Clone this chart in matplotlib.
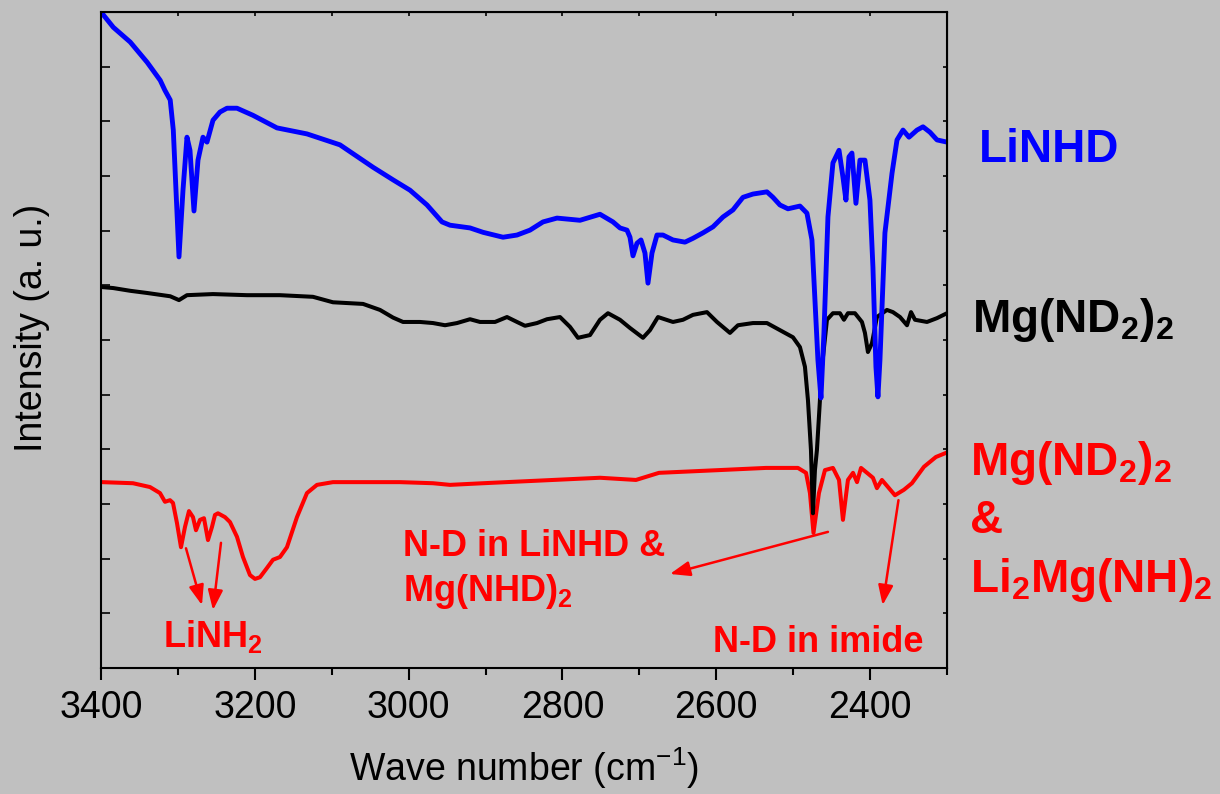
import numpy as np
import matplotlib as mpl
mpl.use('agg')
import matplotlib.pyplot as plt
from matplotlib.ticker import MultipleLocator, NullFormatter

plt.rcParams['font.family'] = ['Liberation Sans', 'DejaVu Sans']
plt.rcParams['mathtext.fontset'] = 'custom'
plt.rcParams['mathtext.rm'] = 'Liberation Sans'
plt.rcParams['mathtext.bf'] = 'Liberation Sans:bold'
plt.rcParams['mathtext.it'] = 'Liberation Sans:italic'

# FTIR spectra (wave number in cm-1, intensity offset per trace, arbitrary units)
wn_linhd = [3400, 3384, 3362, 3340, 3323, 3317, 3310, 3306, 3302.5, 3298.6, 3293.4, 3288.2,
            3284.3, 3279.1, 3273.9, 3267.4, 3262.2, 3254.4, 3245.3, 3236.2, 3223.2, 3202.4,
            3171.2, 3132.2, 3089.3, 3046.3, 3020.3, 2998.2, 2976.1, 2956.6, 2946.2, 2920.2,
            2903.3, 2877.3, 2859.1, 2842.2, 2825.3, 2807.1, 2777.2, 2751.2, 2734.3, 2725.2,
            2716.1, 2712.2, 2708.3, 2703.1, 2697.9, 2692.7, 2688.8, 2683.6, 2677.1, 2669.3,
            2656.3, 2640.7, 2630.3, 2617.3, 2604.3, 2591.3, 2578.3, 2565.3, 2552.3, 2534.1,
            2526.3, 2517.2, 2506.8, 2491.2, 2482.1, 2475.6, 2471.7, 2467.8, 2463.9, 2460.0,
            2454.8, 2448.3, 2440.4, 2435.3, 2431.4, 2427.5, 2423.6, 2418.4, 2413.2, 2406.7,
            2400.2, 2396.3, 2392.4, 2389.8, 2387.2, 2380.7, 2371.5, 2365.0, 2357.2, 2349.4,
            2339.0, 2331.2, 2322.1, 2313.0, 2300.0]
i_linhd = [12.0, 11.72, 11.45, 11.08, 10.75, 10.57, 10.39, 9.84, 8.74, 7.52, 8.74, 9.71,
           9.47, 8.36, 9.29, 9.71, 9.62, 10.02, 10.17, 10.24, 10.24, 10.11,
           9.88, 9.77, 9.57, 9.16, 8.93, 8.74, 8.47, 8.16, 8.10, 8.05,
           7.97, 7.88, 7.92, 8.01, 8.16, 8.23, 8.19, 8.30, 8.16, 8.05,
           8.01, 7.88, 7.54, 7.77, 7.83, 7.59, 7.04, 7.59, 7.92, 7.92,
           7.83, 7.79, 7.86, 7.96, 8.07, 8.25, 8.38, 8.61, 8.67, 8.71,
           8.61, 8.47, 8.40, 8.45, 8.32, 7.83, 6.73, 5.63, 4.94, 6.13,
           8.25, 9.24, 9.47, 8.98, 8.56, 9.35, 9.42, 8.50, 9.29, 9.29,
           8.56, 7.33, 5.51, 4.96, 5.63, 7.96, 9.05, 9.66, 9.84, 9.71,
           9.84, 9.90, 9.80, 9.66, 9.62]

wn_mgnd2 = [3400, 3384, 3362, 3340, 3310, 3298.6, 3288.2, 3254.4, 3210.2, 3167.3, 3124.4,
            3098.4, 3059.3, 3037.2, 3020.3, 3007.3, 2985.2, 2968.3, 2952.7, 2937.1, 2920.2,
            2907.2, 2887.7, 2872.1, 2859.1, 2848.7, 2833.1, 2820.1, 2803.2, 2790.2, 2779.8,
            2764.2, 2751.2, 2740.8, 2725.2, 2712.2, 2695.3, 2686.2, 2675.8, 2656.3, 2643.3,
            2630.3, 2612.1, 2599.1, 2582.2, 2571.8, 2552.3, 2534.1, 2517.2, 2500.3, 2491.2,
            2484.7, 2480.8, 2476.9, 2474.3, 2471.7, 2469.1, 2462.6, 2456.1, 2448.3, 2439.2,
            2434.0, 2428.8, 2419.7, 2410.6, 2406.7, 2402.8, 2397.6, 2391.1, 2378.1, 2370.3,
            2361.1, 2352.0, 2346.8, 2341.6, 2326.0, 2313.0, 2300.0]
i_mgnd2 = [6.97, 6.95, 6.90, 6.86, 6.80, 6.73, 6.82, 6.84, 6.82, 6.82, 6.79,
           6.69, 6.66, 6.55, 6.41, 6.33, 6.33, 6.31, 6.27, 6.31, 6.38,
           6.33, 6.33, 6.42, 6.33, 6.26, 6.31, 6.38, 6.42, 6.24, 6.04,
           6.09, 6.37, 6.49, 6.37, 6.22, 6.04, 6.18, 6.42, 6.33, 6.37,
           6.46, 6.51, 6.33, 6.13, 6.27, 6.31, 6.31, 6.18, 6.05, 5.87,
           5.51, 4.90, 3.99, 2.83, 3.62, 3.99, 5.51, 6.37, 6.49, 6.49,
           6.37, 6.49, 6.49, 6.33, 6.13, 5.78, 5.94, 6.42, 6.55, 6.51,
           6.42, 6.27, 6.51, 6.37, 6.33, 6.40, 6.49]

wn_mix = [3398.7, 3358.4, 3336.3, 3323.3, 3316.8, 3310.3, 3306.4, 3301.2, 3296.0, 3290.8,
          3285.6, 3280.4, 3276.5, 3271.3, 3266.1, 3260.9, 3255.7, 3251.8, 3247.9, 3238.8,
          3232.3, 3223.2, 3215.4, 3206.3, 3199.8, 3193.3, 3184.2, 3176.4, 3167.3, 3158.2,
          3145.2, 3132.2, 3119.2, 3098.4, 3054.1, 3011.2, 2968.3, 2946.2, 2903.3, 2751.2,
          2704.4, 2674.5, 2596.5, 2535.4, 2493.8, 2483.3, 2478.2, 2473.6, 2466.5, 2458.7,
          2448.3, 2440.4, 2435.3, 2428.8, 2422.2, 2417.0, 2411.8, 2404.0, 2396.3, 2391.1,
          2384.6, 2375.5, 2367.7, 2356.0, 2345.6, 2330.0, 2314.4, 2298.7]
i_mix = [3.40, 3.38, 3.31, 3.20, 3.04, 3.07, 3.02, 2.65, 2.21, 2.58,
         2.87, 2.76, 2.52, 2.71, 2.74, 2.34, 2.58, 2.80, 2.83, 2.76,
         2.67, 2.40, 2.03, 1.70, 1.63, 1.66, 1.83, 1.98, 2.03, 2.21,
         2.76, 3.20, 3.35, 3.40, 3.40, 3.40, 3.38, 3.35, 3.38, 3.48,
         3.44, 3.57, 3.62, 3.66, 3.66, 3.57, 3.20, 2.47, 3.20, 3.62,
         3.66, 3.44, 2.71, 3.44, 3.57, 3.40, 3.66, 3.57, 3.48, 3.29,
         3.44, 3.29, 3.16, 3.26, 3.38, 3.68, 3.86, 3.95]

# annotation arrows: (start wn, start I, end wn, end I)
arrows = [(3289.5, 2.19, 3268.7, 1.15),
          (3244.0, 2.29, 3254.4, 1.06),
          (2454.8, 2.49, 2660.2, 1.72),
          (2363.1, 3.07, 2383.7, 1.15)]

bg = '#c0c0c0'
fig = plt.figure(figsize=(12.2, 7.94), dpi=100, facecolor=bg)
ax = fig.add_axes([101/1220, 126/794, 846/1220, 656/794], facecolor=bg)

ax.plot(wn_mix, i_mix, color='#ff0000', lw=2.9, solid_joinstyle='round')
ax.plot(wn_mgnd2, i_mgnd2, color='black', lw=2.9, solid_joinstyle='round')
ax.plot(wn_linhd, i_linhd, color='#0000ff', lw=3.5, solid_joinstyle='round')

ax.set_xlim(3400, 2300)
ax.set_ylim(0, 12)

for s in ax.spines.values():
    s.set_linewidth(1.5)

ax.xaxis.set_major_locator(MultipleLocator(200))
ax.xaxis.set_minor_locator(MultipleLocator(100))
ax.yaxis.set_major_locator(MultipleLocator(1))
ax.yaxis.set_major_formatter(NullFormatter())
ax.tick_params(axis='x', which='major', direction='out', length=8.6, width=1.5,
               labelsize=27, pad=7)
ax.tick_params(axis='x', which='minor', direction='out', length=5, width=1.5)
ax.tick_params(axis='y', which='major', direction='in', length=6.5, width=1.2)

top = ax.secondary_xaxis('top')
top.xaxis.set_major_locator(MultipleLocator(100))
top.tick_params(direction='in', length=3, width=1.2, labeltop=False)
right = ax.secondary_yaxis('right')
right.yaxis.set_major_locator(MultipleLocator(1))
right.tick_params(direction='in', length=3, width=1.2, labelright=False)

ax.set_xlabel('Wave number (cm$^{-1}$)', fontsize=27, va='baseline')
ax.xaxis.set_label_coords(0.5, -0.173)
ax.set_ylabel('Intensity (a. u.)', fontsize=27, va='baseline')
ax.yaxis.set_label_coords(-0.0697, 0.519)

for x0, y0, x1, y1 in arrows:
    ax.annotate('', xy=(x1, y1), xytext=(x0, y0),
                arrowprops=dict(arrowstyle='-|>,head_length=0.8,head_width=0.3',
                                mutation_scale=15, color='#ff0000', lw=1.8,
                                shrinkA=0, shrinkB=0))

red = '#ff0000'
inside = dict(color=red, fontsize=26, fontweight='bold', va='baseline')
ax.text(3319, 0.39, r'LiNH$_\mathbf{2}$', ha='left', **inside)
ax.text(3007, 2.04, 'N-D in LiNHD &', ha='left', **inside)
ax.text(3007, 1.23, r'Mg(NHD)$_\mathbf{2}$', ha='left', **inside)
ax.text(2330, 0.30, 'N-D in imide', ha='right', **inside)

side = dict(fontsize=33, fontweight='bold', va='baseline', ha='left',
            transform=ax.transAxes, clip_on=False)
ax.text(1.0378, 0.7713, 'LiNHD', color='#0000ff', **side)
ax.text(1.0296, 0.5122, r'Mg(ND$_\mathbf{2}$)$_\mathbf{2}$', color='black', **side)
ax.text(1.0272, 0.2942, r'Mg(ND$_\mathbf{2}$)$_\mathbf{2}$', color=red, **side)
ax.text(1.0272, 0.2058, '&', color=red, **side)
ax.text(1.0272, 0.1159, r'Li$_\mathbf{2}$Mg(NH)$_\mathbf{2}$', color=red, **side)

fig.savefig('out.png', dpi=100, facecolor=bg)
